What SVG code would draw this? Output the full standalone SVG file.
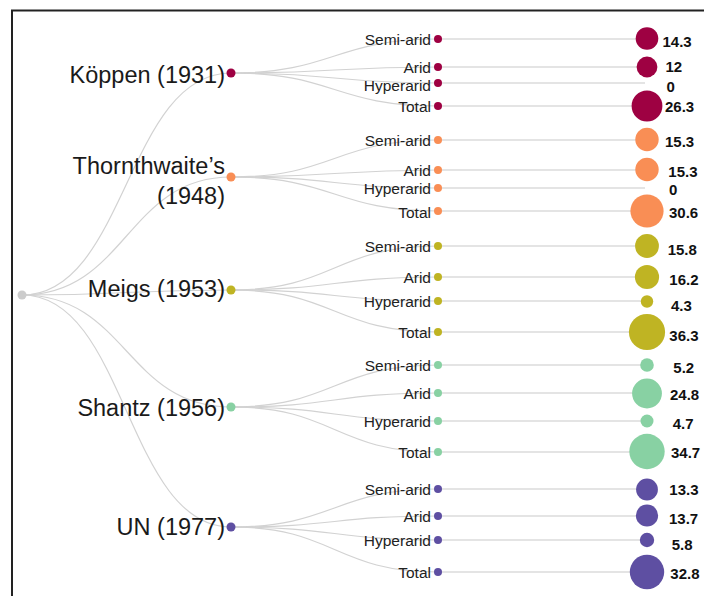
<svg xmlns="http://www.w3.org/2000/svg" width="704" height="596" viewBox="0 0 704 596">
<style>
.link{fill:none;stroke:#d2d2d2;stroke-width:1.2}
.bar{fill:none;stroke:#dcdcdc;stroke-width:1.5}
.l1{font-family:"Liberation Sans",Arial,sans-serif;font-size:23.5px;fill:#1a1a1a;text-anchor:end}
.l2{font-family:"Liberation Sans",Arial,sans-serif;font-size:15.5px;fill:#222;text-anchor:end}
.val{font-family:"Liberation Sans",Arial,sans-serif;font-size:15px;font-weight:bold;fill:#111}
.c1{fill:#9e0142}.c2{fill:#f98e55}.c3{fill:#bfb423}.c4{fill:#88d1a3}.c5{fill:#5e4fa2}
</style>
<rect x="0" y="0" width="704" height="596" fill="#fff"/>
<path d="M12,596 V10.5 H704" fill="none" stroke="#222" stroke-width="2"/>
<g id="connectors">
<path class="link" d="M22,295 C126.5,295 126.5,73 231,73"/>
<path class="link" d="M22,295 C126.5,295 126.5,177 231,177"/>
<path class="link" d="M22,295 C126.5,295 126.5,290 231,290"/>
<path class="link" d="M22,295 C126.5,295 126.5,407 231,407"/>
<path class="link" d="M22,295 C126.5,295 126.5,527 231,527"/>
<path class="link" d="M231,73 C334.5,73 334.5,39 438,39"/>
<path class="link" d="M231,73 C334.5,73 334.5,67 438,67"/>
<path class="link" d="M231,73 C334.5,73 334.5,83 438,83"/>
<path class="link" d="M231,73 C334.5,73 334.5,106 438,106"/>
<path class="link" d="M231,177 C334.5,177 334.5,140 438,140"/>
<path class="link" d="M231,177 C334.5,177 334.5,170 438,170"/>
<path class="link" d="M231,177 C334.5,177 334.5,188 438,188"/>
<path class="link" d="M231,177 C334.5,177 334.5,211 438,211"/>
<path class="link" d="M231,290 C334.5,290 334.5,246 438,246"/>
<path class="link" d="M231,290 C334.5,290 334.5,277 438,277"/>
<path class="link" d="M231,290 C334.5,290 334.5,301 438,301"/>
<path class="link" d="M231,290 C334.5,290 334.5,332 438,332"/>
<path class="link" d="M231,407 C334.5,407 334.5,365 438,365"/>
<path class="link" d="M231,407 C334.5,407 334.5,393 438,393"/>
<path class="link" d="M231,407 C334.5,407 334.5,421 438,421"/>
<path class="link" d="M231,407 C334.5,407 334.5,452 438,452"/>
<path class="link" d="M231,527 C334.5,527 334.5,489 438,489"/>
<path class="link" d="M231,527 C334.5,527 334.5,516 438,516"/>
<path class="link" d="M231,527 C334.5,527 334.5,540 438,540"/>
<path class="link" d="M231,527 C334.5,527 334.5,572 438,572"/>
<path class="bar" d="M438,39H645M438,67H645M438,83H645M438,106H645M438,140H645M438,170H645M438,188H645M438,211H645M438,246H645M438,277H645M438,301H645M438,332H645M438,365H645M438,393H645M438,421H645M438,452H645M438,489H645M438,516H645M438,540H645M438,572H645"/>
</g>
<g id="root"><circle cx="22" cy="295" r="4.5" fill="#cccccc"/></g>
<g id="koppen">
<circle class="c1" cx="231" cy="73" r="4.5"/>
<text class="l1" x="225" y="82.5">Köppen (1931)</text>
</g>
<g id="thornthwaite">
<circle class="c2" cx="231" cy="177" r="4.5"/>
<text class="l1" x="225" y="173.5">Thornthwaite’s</text>
<text class="l1" x="225" y="204">(1948)</text>
</g>
<g id="meigs">
<circle class="c3" cx="231" cy="290" r="4.5"/>
<text class="l1" x="225" y="297">Meigs (1953)</text>
</g>
<g id="shantz">
<circle class="c4" cx="231" cy="407" r="4.5"/>
<text class="l1" x="225" y="415.5">Shantz (1956)</text>
</g>
<g id="un">
<circle class="c5" cx="231" cy="527" r="4.5"/>
<text class="l1" x="225" y="535">UN (1977)</text>
</g>
<g id="koppen-classes">
<circle class="c1" cx="438" cy="39" r="4"/><text class="l2" x="431" y="45">Semi-arid</text>
<circle class="c1" cx="438" cy="67" r="4"/><text class="l2" x="431" y="73">Arid</text>
<circle class="c1" cx="438" cy="83" r="4"/><text class="l2" x="431" y="91">Hyperarid</text>
<circle class="c1" cx="438" cy="106" r="4"/><text class="l2" x="431" y="112">Total</text>
<circle class="c1" cx="647" cy="38.5" r="11.3"/><text class="val" x="662.5" y="47.4">14.3</text>
<circle class="c1" cx="647" cy="67" r="10.4"/><text class="val" x="665.5" y="71.7">12</text>
<text class="val" x="666.5" y="92.4">0</text>
<circle class="c1" cx="647" cy="106" r="15.4"/><text class="val" x="665" y="112.4">26.3</text>
</g>
<g id="thornthwaite-classes">
<circle class="c2" cx="438" cy="140" r="4"/><text class="l2" x="431" y="146">Semi-arid</text>
<circle class="c2" cx="438" cy="170" r="4"/><text class="l2" x="431" y="176">Arid</text>
<circle class="c2" cx="438" cy="188" r="4"/><text class="l2" x="431" y="194">Hyperarid</text>
<circle class="c2" cx="438" cy="211" r="4"/><text class="l2" x="431" y="218">Total</text>
<circle class="c2" cx="647" cy="139.5" r="11.7"/><text class="val" x="665" y="147.4">15.3</text>
<circle class="c2" cx="647" cy="169.5" r="11.7"/><text class="val" x="668.3" y="177.4">15.3</text>
<text class="val" x="669" y="195.1">0</text>
<circle class="c2" cx="647" cy="211" r="16.6"/><text class="val" x="669" y="218.2">30.6</text>
</g>
<g id="meigs-classes">
<circle class="c3" cx="438" cy="246" r="4"/><text class="l2" x="431" y="252">Semi-arid</text>
<circle class="c3" cx="438" cy="277" r="4"/><text class="l2" x="431" y="283">Arid</text>
<circle class="c3" cx="438" cy="301" r="4"/><text class="l2" x="431" y="307">Hyperarid</text>
<circle class="c3" cx="438" cy="332" r="4"/><text class="l2" x="431" y="338">Total</text>
<circle class="c3" cx="647" cy="246" r="11.9"/><text class="val" x="667.7" y="255.4">15.8</text>
<circle class="c3" cx="647" cy="277" r="12.1"/><text class="val" x="669.3" y="285.1">16.2</text>
<circle class="c3" cx="647" cy="301.5" r="6.2"/><text class="val" x="671" y="311.1">4.3</text>
<circle class="c3" cx="647" cy="332" r="18.1"/><text class="val" x="669.3" y="340.9">36.3</text>
</g>
<g id="shantz-classes">
<circle class="c4" cx="438" cy="365" r="4"/><text class="l2" x="431" y="371">Semi-arid</text>
<circle class="c4" cx="438" cy="393" r="4"/><text class="l2" x="431" y="399">Arid</text>
<circle class="c4" cx="438" cy="421" r="4"/><text class="l2" x="431" y="427">Hyperarid</text>
<circle class="c4" cx="438" cy="452" r="4"/><text class="l2" x="431" y="458">Total</text>
<circle class="c4" cx="647" cy="365" r="6.8"/><text class="val" x="673.3" y="373.4">5.2</text>
<circle class="c4" cx="647" cy="393.5" r="14.9"/><text class="val" x="670" y="400.4">24.8</text>
<circle class="c4" cx="647" cy="421" r="6.5"/><text class="val" x="672.7" y="428.7">4.7</text>
<circle class="c4" cx="647" cy="451.5" r="17.7"/><text class="val" x="671" y="458.2">34.7</text>
</g>
<g id="un-classes">
<circle class="c5" cx="438" cy="489" r="4"/><text class="l2" x="431" y="495">Semi-arid</text>
<circle class="c5" cx="438" cy="516" r="4"/><text class="l2" x="431" y="522">Arid</text>
<circle class="c5" cx="438" cy="540" r="4"/><text class="l2" x="431" y="546">Hyperarid</text>
<circle class="c5" cx="438" cy="572" r="4"/><text class="l2" x="431" y="578">Total</text>
<circle class="c5" cx="647" cy="489.5" r="10.9"/><text class="val" x="669.3" y="495.4">13.3</text>
<circle class="c5" cx="647" cy="515.5" r="11.1"/><text class="val" x="669" y="524.1">13.7</text>
<circle class="c5" cx="647" cy="540" r="7.2"/><text class="val" x="671.7" y="549.7">5.8</text>
<circle class="c5" cx="647" cy="572" r="17.2"/><text class="val" x="670.3" y="579.4">32.8</text>
</g>
</svg>
